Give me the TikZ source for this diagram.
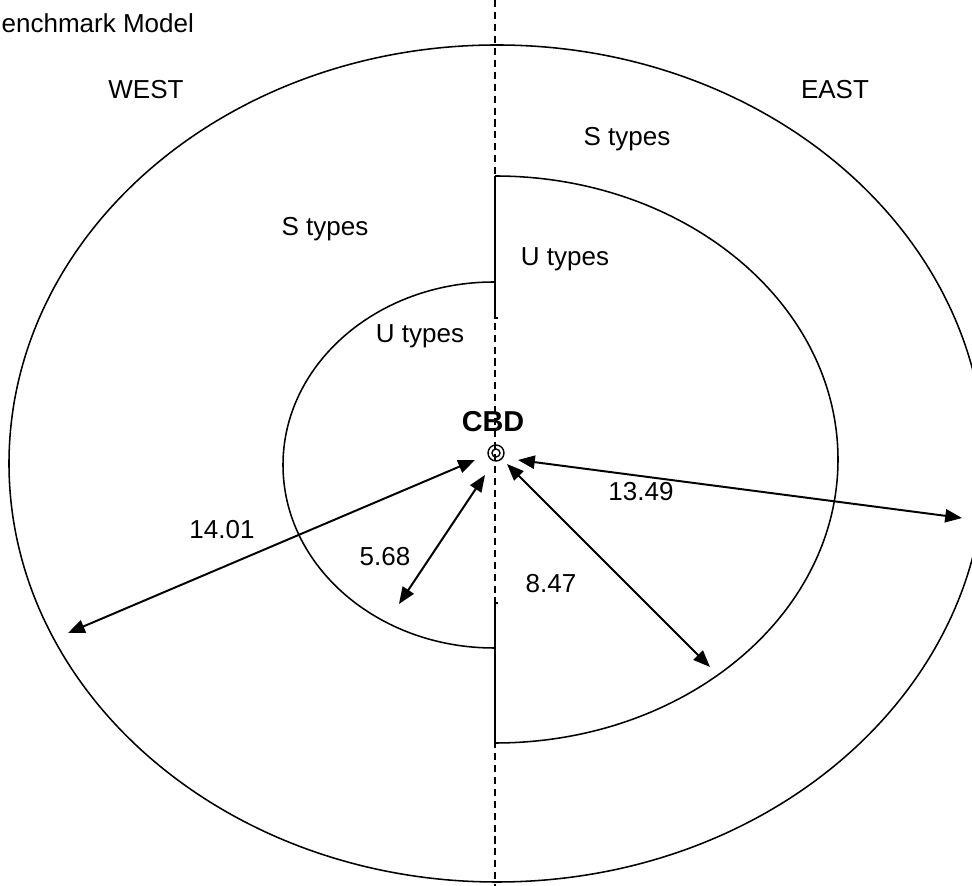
\documentclass[tikz,border=0pt]{standalone}
\usepackage{fontspec}
\setmainfont{Liberation Sans}
\usetikzlibrary{arrows.meta}

\tikzset{
  lbl/.style={anchor=base, inner sep=0pt, font=\fontsize{18.5}{22}\selectfont},
  dim/.style={line width=1.4pt, {Triangle[length=0.42cm,width=0.33cm]}-{Triangle[length=0.42cm,width=0.33cm]}},
  ring/.style={line width=1.1pt}
}

\begin{document}
\begin{tikzpicture}
    \useasboundingbox (-12.375,-10.825) rectangle (11.925,11.325);
    \draw [line width=1pt, dash pattern=on 5pt off 3.5pt] (0,11.325) -- (0,-10.825);% Draw the split line
    \draw [ring] (0.05,-0.2625) ellipse [x radius=12.2, y radius=10.4625];% outer ring
    \draw [ring] (-0.025,4.275) arc [start angle=90, end angle=270, x radius=5.275, y radius=4.575];% west inner half
    \draw [ring] (0,6.925) arc [start angle=90, end angle=-90, x radius=8.575, y radius=7.0875];% east inner half
    \draw [ring] (0,6.925) -- (0,3.375) -- (0.08,3.375);
    \draw [ring] (0.08,-3.75) -- (0,-3.75) -- (0,-7.25);
    \node [draw, circle, line width=1pt, minimum size=0.4cm, inner sep=0pt] (cbd) at (0.025,0) {};
    \draw [line width=1pt] (cbd) circle [radius=0.1];
    \node [lbl, font=\fontsize{20.5}{24}\selectfont\bfseries] (cbdtxt) at (-0.05,0.525) {CBD};
    \node [lbl, anchor=base west] (title) at (-12.34,10.5) {enchmark Model};
    \node [lbl] (west) at (-8.725,8.85) {WEST};
    \node [lbl] (east) at (8.5,8.85) {EAST};
    \node [lbl] (seast) at (3.3,7.675) {S types};
    \node [lbl] (swest) at (-4.25,5.425) {S types};
    \node [lbl] (ueast) at (1.75,4.675) {U types};
    \node [lbl] (uwest) at (-1.875,2.75) {U types};
    % ends of the distance arrows
    \coordinate (a1) at (-0.5,-0.175);   \coordinate (b1) at (-10.675,-4.5);
    \coordinate (a2) at (-0.25,-0.55);   \coordinate (b2) at (-2.4,-3.775);
    \coordinate (a3) at (0.3,-0.275);    \coordinate (b3) at (5.375,-5.35);
    \coordinate (a4) at (0.575,-0.175);  \coordinate (b4) at (11.675,-1.625);
    \foreach \i in {1,...,4}{% one arrow per distance
      \draw [dim] (a\i) -- (b\i);}
    \node [lbl] (d1) at (-6.825,-2.15) {14.01};
    \node [lbl] (d2) at (-2.75,-2.825) {5.68};
    \node [lbl] (d3) at (1.4,-3.5) {8.47};
    \node [lbl] (d4) at (3.65,-1.2) {13.49};
\end{tikzpicture}
\end{document}
